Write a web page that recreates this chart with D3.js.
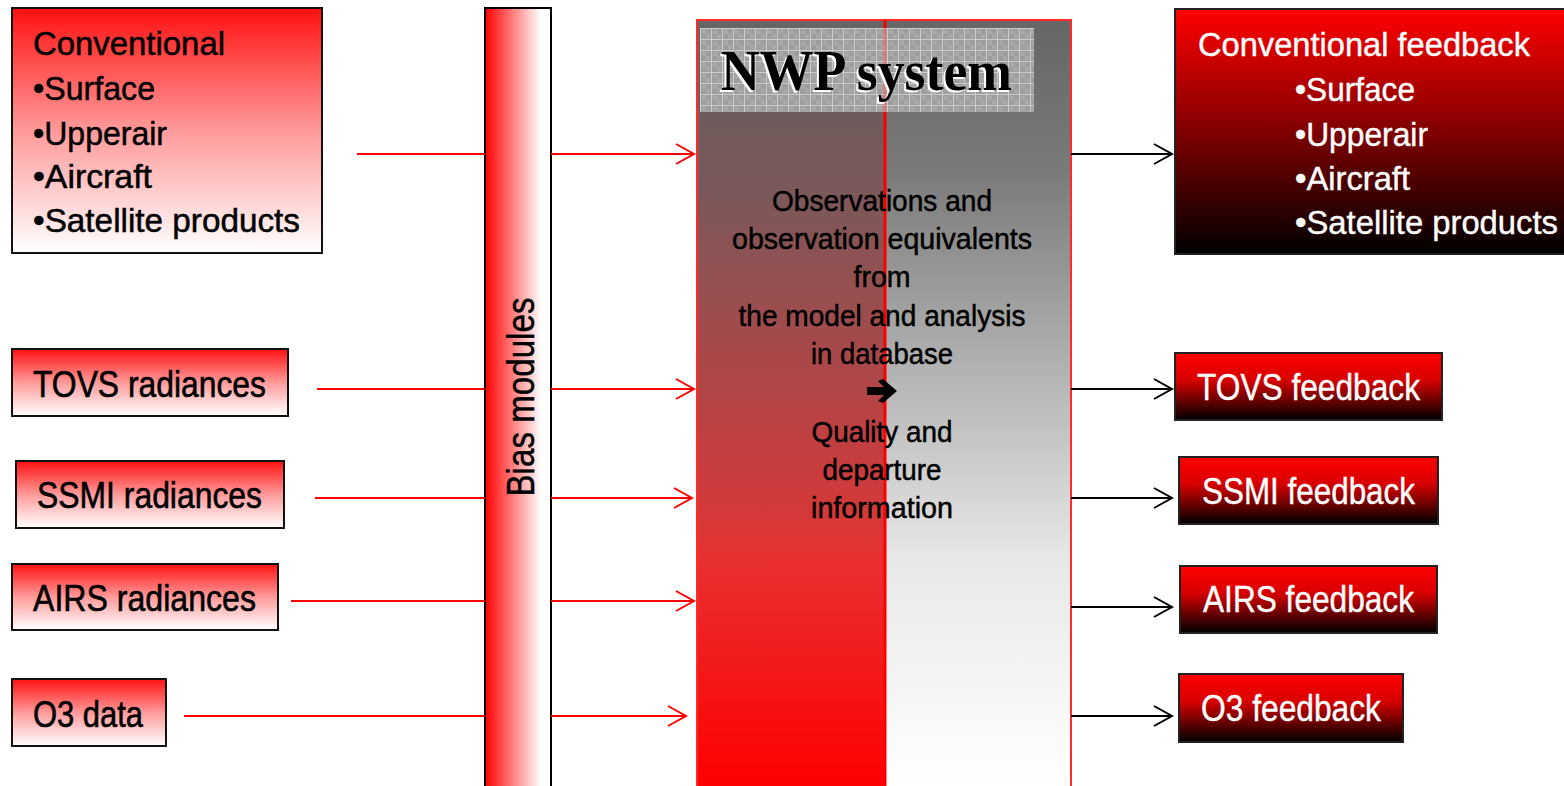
<!DOCTYPE html>
<html><head><meta charset="utf-8">
<script src="https://cdn.jsdelivr.net/npm/d3@7"></script>
<style>body{margin:0;background:#fff;overflow:hidden} svg{display:block}</style>
</head><body>
<script>
// ---- content ----
const inputLabels = ["TOVS radiances", "SSMI radiances", "AIRS radiances", "O3 data"];
const outputLabels = ["TOVS feedback", "SSMI feedback", "AIRS feedback", "O3 feedback"];
const conventionalTitle = "Conventional";
const conventionalFeedbackTitle = "Conventional feedback";
const conventionalItems = ["Surface", "Upperair", "Aircraft", "Satellite products"];
const biasLabel = "Bias modules";
const systemTitle = "NWP system";
const centerTop = ["Observations and", "observation equivalents", "from", "the model and analysis", "in database"];
const centerBottom = ["Quality and", "departure", "information"];

// ---- layout (geometry only) ----
const W = 1564, H = 786;
const inBoxGeom = [
  {x: 12, y: 349, w: 276, h: 67, tx: 33, tw: 233, base: 397, lineX: 317, ly: 389, tip: 694},
  {x: 16, y: 461, w: 268, h: 67, tx: 37, tw: 225, base: 508, lineX: 315, ly: 498, tip: 692},
  {x: 12, y: 564, w: 266, h: 66, tx: 33, tw: 223, base: 611, lineX: 291, ly: 601, tip: 694},
  {x: 12, y: 679, w: 154, h: 67, tx: 33, tw: 110, base: 727, lineX: 184, ly: 716, tip: 686}
];
const outBoxGeom = [
  {x: 1175, y: 353, w: 267, h: 67, tx: 1197, tw: 223, base: 400, ly: 389},
  {x: 1179, y: 457, w: 259, h: 67, tx: 1202, tw: 213, base: 504, ly: 498},
  {x: 1180, y: 566, w: 257, h: 67, tx: 1203, tw: 211, base: 612, ly: 607},
  {x: 1179, y: 674, w: 224, h: 68, tx: 1201, tw: 180, base: 721, ly: 716}
];
const convIn = {x: 12, y: 8, w: 310, h: 245, lineX: 357, ly: 154, tip: 694,
  tx: 33, bases: [55, 100, 145, 188, 232], widths: [192, 122, 134, 119, 267]};
const convOut = {x: 1175, y: 9, w: 400, h: 245, ly: 154,
  tx: [1198, 1295, 1295, 1295, 1295], bases: [56, 101, 146, 190, 234], widths: [332, 120, 133, 115, 263]};
const bias = {x: 485, y: 8, w: 66};
const nwp = {x: 697, y: 20, x2: 1071, mid: 885};
const header = {x: 700, y: 28, w: 334, h: 84};
const centerX = 882;
const topBases = [211, 249, 287, 326, 364];
const botBases = [442, 480, 518];

const FONT = "'Liberation Sans Narrow','Arial Narrow','Liberation Sans',Arial,sans-serif";

const svg = d3.select("body").append("svg").attr("width", W).attr("height", H);
const defs = svg.append("defs");

function vGrad(id, stops, y1, y2) {
  const g = defs.append("linearGradient").attr("id", id)
    .attr("x1", 0).attr("x2", 0).attr("y1", y1 ?? 0).attr("y2", y2 ?? 1);
  if (y1 !== undefined) g.attr("gradientUnits", "userSpaceOnUse");
  stops.forEach(s => g.append("stop").attr("offset", s[0]).attr("stop-color", s[1]));
}
vGrad("gIn", [[0, "#ff1010"], [0.5, "#ff9a9a"], [1, "#ffffff"]]);
vGrad("gOut", [[0, "#ff0000"], [1, "#000000"]]);
vGrad("gOutS", [[0, "#ff0000"], [0.4, "#d80000"], [1, "#000000"]]);
vGrad("gNL", [[0, "#666666"], [0.12, "#6e5c5c"], [0.235, "#7d585a"], [0.65, "#d63838"], [0.705, "#e83030"], [1, "#ff0000"]], 20, 786);
vGrad("gNR", [[0, "#666666"], [0.196, "#7a7a7a"], [0.705, "#e8e8e8"], [1, "#ffffff"]], 20, 786);
const gb = defs.append("linearGradient").attr("id", "gBias").attr("x1", 0).attr("x2", 1).attr("y1", 0).attr("y2", 0);
gb.append("stop").attr("offset", 0).attr("stop-color", "#ff0000");
gb.append("stop").attr("offset", 0.85).attr("stop-color", "#ffffff");
gb.append("stop").attr("offset", 1).attr("stop-color", "#ffffff");

const pat = defs.append("pattern").attr("id", "grid").attr("patternUnits", "userSpaceOnUse")
  .attr("width", 11).attr("height", 11).attr("x", 700).attr("y", 28);
pat.append("rect").attr("width", 11).attr("height", 11).attr("fill", "#9e9e9e");
pat.append("rect").attr("x", 2).attr("y", 2).attr("width", 4).attr("height", 4).attr("fill", "#a9a9a9");
pat.append("rect").attr("x", 6).attr("y", 6).attr("width", 4).attr("height", 4).attr("fill", "#a9a9a9");
pat.append("path").attr("d", "M0,0.5H11M0.5,0V11").attr("stroke", "#cdcdcd").attr("stroke-width", 1);

// ---- NWP system block ----
svg.append("rect").attr("x", nwp.x).attr("y", nwp.y).attr("width", nwp.mid - nwp.x).attr("height", H)
  .attr("fill", "url(#gNL)");
svg.append("rect").attr("x", nwp.mid).attr("y", nwp.y).attr("width", nwp.x2 - nwp.mid).attr("height", H)
  .attr("fill", "url(#gNR)");
svg.append("rect").attr("x", nwp.x).attr("y", nwp.y).attr("width", nwp.x2 - nwp.x).attr("height", H + 10)
  .attr("fill", "none").attr("stroke", "#ff2a2a").attr("stroke-width", 2);
svg.append("line").attr("x1", nwp.mid).attr("x2", nwp.mid).attr("y1", nwp.y).attr("y2", H)
  .attr("stroke", "#ff0000").attr("stroke-width", 3);
svg.append("rect").attr("x", header.x).attr("y", header.y).attr("width", header.w).attr("height", header.h)
  .attr("fill", "url(#grid)");
svg.append("line").attr("x1", nwp.mid).attr("x2", nwp.mid).attr("y1", header.y).attr("y2", header.y + header.h)
  .attr("stroke", "#ff6060").attr("stroke-width", 3).attr("opacity", 0.6);
[["#ffffff", -2, 2], ["#000000", 0, 0]].forEach(([c, dx, dy]) => {
  svg.append("text").attr("x", 721 + dx).attr("y", 90 + dy).text(systemTitle)
    .attr("font-family", "'Liberation Serif','Times New Roman',serif").attr("font-weight", "bold")
    .attr("font-size", 56).attr("fill", c).attr("textLength", 291).attr("lengthAdjust", "spacingAndGlyphs");
});
const ctext = svg.append("g").attr("font-family", FONT).attr("font-size", 30).attr("fill", "#000")
  .attr("stroke", "#000").attr("stroke-width", 0.5).attr("text-anchor", "middle");
const tlen = [220, 300, 57, 287, 142];
ctext.selectAll("text.top").data(centerTop).join("text").attr("class", "top")
  .attr("x", centerX).attr("y", (d, i) => topBases[i]).text(d => d)
  .attr("textLength", (d, i) => tlen[i]).attr("lengthAdjust", "spacingAndGlyphs");
const blen = [141, 119, 142];
ctext.selectAll("text.bot").data(centerBottom).join("text").attr("class", "bot")
  .attr("x", centerX).attr("y", (d, i) => botBases[i]).text(d => d)
  .attr("textLength", (d, i) => blen[i]).attr("lengthAdjust", "spacingAndGlyphs");
// heavy arrow
svg.append("path")
  .attr("d", "M867,387 H884 L878,381 L883,379 L897,391 L883,403 L878,401 L884,395 H867 Z")
  .attr("fill", "#000");

// ---- bias bar ----
svg.append("rect").attr("x", bias.x).attr("y", bias.y).attr("width", bias.w).attr("height", H)
  .attr("fill", "url(#gBias)").attr("stroke", "#000").attr("stroke-width", 2);
svg.append("text").attr("transform", `translate(534,397) rotate(-90)`).attr("text-anchor", "middle")
  .attr("font-family", FONT).attr("font-size", 39).attr("fill", "#000")
  .attr("stroke", "#000").attr("stroke-width", 0.5).text(biasLabel)
  .attr("textLength", 199).attr("lengthAdjust", "spacingAndGlyphs");

// ---- arrows ----
function arrow(g, x1, x2, y, color) {
  g.append("line").attr("x1", x1).attr("x2", x2 - 1).attr("y1", y).attr("y2", y)
    .attr("stroke", color).attr("stroke-width", 2);
  g.append("path").attr("d", `M${x2 - 18},${y - 10} L${x2},${y} L${x2 - 18},${y + 10}`)
    .attr("fill", "none").attr("stroke", color).attr("stroke-width", 2);
}
const inRows = [convIn, ...inBoxGeom];
const ag = svg.append("g");
inRows.forEach(r => {
  ag.append("line").attr("x1", r.lineX).attr("x2", bias.x).attr("y1", r.ly).attr("y2", r.ly)
    .attr("stroke", "#ff0000").attr("stroke-width", 2);
  arrow(ag, bias.x + bias.w, r.tip, r.ly, "#ff0000");
});
[convOut, ...outBoxGeom].forEach(r => arrow(ag, nwp.x2, 1172, r.ly, "#000"));

// ---- input boxes ----
svg.append("rect").attr("x", convIn.x).attr("y", convIn.y).attr("width", convIn.w).attr("height", convIn.h)
  .attr("fill", "url(#gIn)").attr("stroke", "#111").attr("stroke-width", 2);
const convLinesIn = [conventionalTitle, ...conventionalItems.map(d => "\u2022" + d)];
svg.append("g").attr("font-family", FONT).attr("font-size", 33).attr("fill", "#000")
  .attr("stroke", "#000").attr("stroke-width", 0.5)
  .selectAll("text").data(convLinesIn).join("text")
  .attr("x", convIn.tx).attr("y", (d, i) => convIn.bases[i]).text(d => d)
  .attr("textLength", (d, i) => convIn.widths[i]).attr("lengthAdjust", "spacingAndGlyphs");

const ib = svg.append("g").selectAll("g").data(inputLabels).join("g");
ib.append("rect").attr("x", (d, i) => inBoxGeom[i].x).attr("y", (d, i) => inBoxGeom[i].y)
  .attr("width", (d, i) => inBoxGeom[i].w).attr("height", (d, i) => inBoxGeom[i].h)
  .attr("fill", "url(#gIn)").attr("stroke", "#111").attr("stroke-width", 2);
ib.append("text").attr("x", (d, i) => inBoxGeom[i].tx).attr("y", (d, i) => inBoxGeom[i].base)
  .attr("font-family", FONT).attr("font-size", 37).attr("fill", "#000")
  .attr("stroke", "#000").attr("stroke-width", 0.6).text(d => d)
  .attr("textLength", (d, i) => inBoxGeom[i].tw).attr("lengthAdjust", "spacingAndGlyphs");

// ---- output boxes ----
svg.append("rect").attr("x", convOut.x).attr("y", convOut.y).attr("width", convOut.w).attr("height", convOut.h)
  .attr("fill", "url(#gOut)").attr("stroke", "#222").attr("stroke-width", 2);
const convLinesOut = [conventionalFeedbackTitle, ...conventionalItems.map(d => "\u2022" + d)];
svg.append("g").attr("font-family", FONT).attr("font-size", 33).attr("fill", "#fff")
  .attr("stroke", "#fff").attr("stroke-width", 0.4)
  .selectAll("text").data(convLinesOut).join("text")
  .attr("x", (d, i) => convOut.tx[i]).attr("y", (d, i) => convOut.bases[i]).text(d => d)
  .attr("textLength", (d, i) => convOut.widths[i]).attr("lengthAdjust", "spacingAndGlyphs");

const ob = svg.append("g").selectAll("g").data(outputLabels).join("g");
ob.append("rect").attr("x", (d, i) => outBoxGeom[i].x).attr("y", (d, i) => outBoxGeom[i].y)
  .attr("width", (d, i) => outBoxGeom[i].w).attr("height", (d, i) => outBoxGeom[i].h)
  .attr("fill", "url(#gOutS)").attr("stroke", "#222").attr("stroke-width", 2);
ob.append("text").attr("x", (d, i) => outBoxGeom[i].tx).attr("y", (d, i) => outBoxGeom[i].base)
  .attr("font-family", FONT).attr("font-size", 36).attr("fill", "#fff")
  .attr("stroke", "#fff").attr("stroke-width", 0.4).text(d => d)
  .attr("textLength", (d, i) => outBoxGeom[i].tw).attr("lengthAdjust", "spacingAndGlyphs");
</script>
</body></html>
